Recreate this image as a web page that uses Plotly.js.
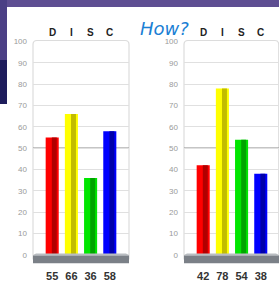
<!DOCTYPE html>
<html>
<head>
<meta charset="utf-8">
<script src="https://cdn.plot.ly/plotly-3.0.1.min.js"></script>
<style>
html,body{margin:0;padding:0;background:#fff;}
#chart{width:279px;height:282px;}
</style>
</head>
<body>
<div id="chart"></div>
<script>
const categories = ['D', 'I', 'S', 'C'];
const valuesLeft = [55, 66, 36, 58];
const valuesRight = [42, 78, 54, 38];
const yTickVals = [0, 10, 20, 30, 40, 50, 60, 70, 80, 90, 100];
const barColors = ['#ff0000', '#ffff00', '#00e600', '#0000ff'];
const barShades = ['#b00000', '#c2bc00', '#00a400', '#0000aa'];
const titleText = 'How?';

const xs = categories.map((c, i) => i);
const BW = 0.68;

function barTraces(vals, xa, ya) {
  return [
    {type: 'bar', x: xs, y: vals, xaxis: xa, yaxis: ya, width: BW, offset: -BW / 2,
     marker: {color: barColors, line: {width: 0}}, hoverinfo: 'skip', showlegend: false},
    {type: 'bar', x: xs, y: vals, xaxis: xa, yaxis: ya, width: BW * 0.38, offset: -BW / 2 + BW * 0.47,
     marker: {color: barShades, line: {width: 0}}, hoverinfo: 'skip', showlegend: false}
  ];
}

const yDomain = [(282 - 263.5) / 282, (282 - 41.5) / 282];
const xDomL = [33 / 279, 129 / 279];
const xDomR = [184 / 279, 1];

const yAxisBase = {
  range: [-4, 100], domain: yDomain, tickvals: yTickVals, ticktext: yTickVals.map(String),
  showgrid: true, gridcolor: '#e0e0e0', gridwidth: 1, zeroline: false, showline: false,
  ticks: '', ticklabelstandoff: 5, tickfont: {family: 'Liberation Sans, Arial', size: 8, color: '#9a9a9a'},
  fixedrange: true
};
const xAxisBase = {
  tickvals: xs, showgrid: false, zeroline: false, showline: false, ticks: '',
  tickfont: {family: 'Liberation Sans, Arial', size: 11, color: '#333', weight: 'bold'},
  ticklabelstandoff: 4, fixedrange: true
};

function frame(d) {
  const x0 = d[0], x1 = Math.min(d[1], 0.999), y0 = yDomain[0] + 4 / 282, y1 = yDomain[1] + 1 / 282;
  const rx = 4 / 279, ry = 4 / 282;
  return {type: 'path', xref: 'paper', yref: 'paper', layer: 'below',
    path: `M ${x0},${y0} L ${x0},${y1 - ry} Q ${x0},${y1} ${x0 + rx},${y1} L ${x1 - rx},${y1} Q ${x1},${y1} ${x1},${y1 - ry} L ${x1},${y0}`,
    line: {color: '#dcdcdc', width: 1.2}};
}

function floor(xr, yr) {
  return [
    {type: 'path', xref: xr + ' domain', yref: yr, layer: 'above',
     path: 'M 0,-0.2 L 0.03,0.7 L 0.97,0.7 L 1,-0.2 Z',
     fillcolor: '#b9bdc1', line: {width: 0}},
    {type: 'rect', xref: xr + ' domain', yref: yr, x0: 0, x1: 1, y0: -4, y1: -0.2,
     fillcolor: '#7b8087', line: {width: 0}, layer: 'above'},
    {type: 'line', xref: xr + ' domain', yref: yr, x0: 0, x1: 1, y0: 50, y1: 50,
     line: {color: '#8c8c8c', width: 1.6}, layer: 'below'}
  ];
}

const annotations = [];
categories.forEach((c, i) => {
  annotations.push({x: i, xref: 'x', y: 1 - 25 / 282, yref: 'paper', text: c, showarrow: false,
    font: {family: 'Liberation Sans, Arial', size: 10, color: '#222', weight: 'bold'}});
  annotations.push({x: i, xref: 'x2', y: 1 - 25 / 282, yref: 'paper', text: c, showarrow: false,
    font: {family: 'Liberation Sans, Arial', size: 10, color: '#222', weight: 'bold'}});
});
annotations.push({x: 164 / 279, xref: 'paper', y: 1 - 17 / 282, yref: 'paper', text: titleText,
  showarrow: false, borderpad: 0, height: 20, valign: 'middle',
  font: {family: 'DejaVu Sans', size: 18, color: '#1a80d4', style: 'italic'}});

const bgShapes = [
  {type: 'rect', xref: 'paper', yref: 'paper', x0: 0, x1: 1, y0: 1 - 7 / 282, y1: 1,
   fillcolor: '#5e4e92', line: {width: 0}, layer: 'below'},
  {type: 'rect', xref: 'paper', yref: 'paper', x0: 0, x1: 7 / 279, y0: 1 - 60 / 282, y1: 1,
   fillcolor: '#4b3f85', line: {width: 0}, layer: 'below'},
  {type: 'rect', xref: 'paper', yref: 'paper', x0: 0, x1: 7 / 279, y0: 1 - 104 / 282, y1: 1 - 60 / 282,
   fillcolor: '#1e1d5c', line: {width: 0}, layer: 'below'}
];

const data = [].concat(barTraces(valuesLeft, 'x', 'y'), barTraces(valuesRight, 'x2', 'y2'));

const layout = {
  width: 279, height: 282, margin: {l: 0, r: 0, t: 0, b: 0},
  paper_bgcolor: '#ffffff', plot_bgcolor: 'rgba(0,0,0,0)',
  barmode: 'overlay', showlegend: false,
  xaxis: Object.assign({}, xAxisBase, {domain: xDomL, range: [-1, 4], anchor: 'y', ticktext: valuesLeft.map(String)}),
  xaxis2: Object.assign({}, xAxisBase, {domain: xDomR, range: [-1, 3.95], anchor: 'y2', ticktext: valuesRight.map(String)}),
  yaxis: Object.assign({}, yAxisBase, {anchor: 'x'}),
  yaxis2: Object.assign({}, yAxisBase, {anchor: 'x2'}),
  shapes: bgShapes.concat([frame(xDomL), frame(xDomR)], floor('x', 'y'), floor('x2', 'y2')),
  annotations: annotations
};

Plotly.newPlot('chart', data, layout, {displayModeBar: false, staticPlot: true});
</script>
</body>
</html>
